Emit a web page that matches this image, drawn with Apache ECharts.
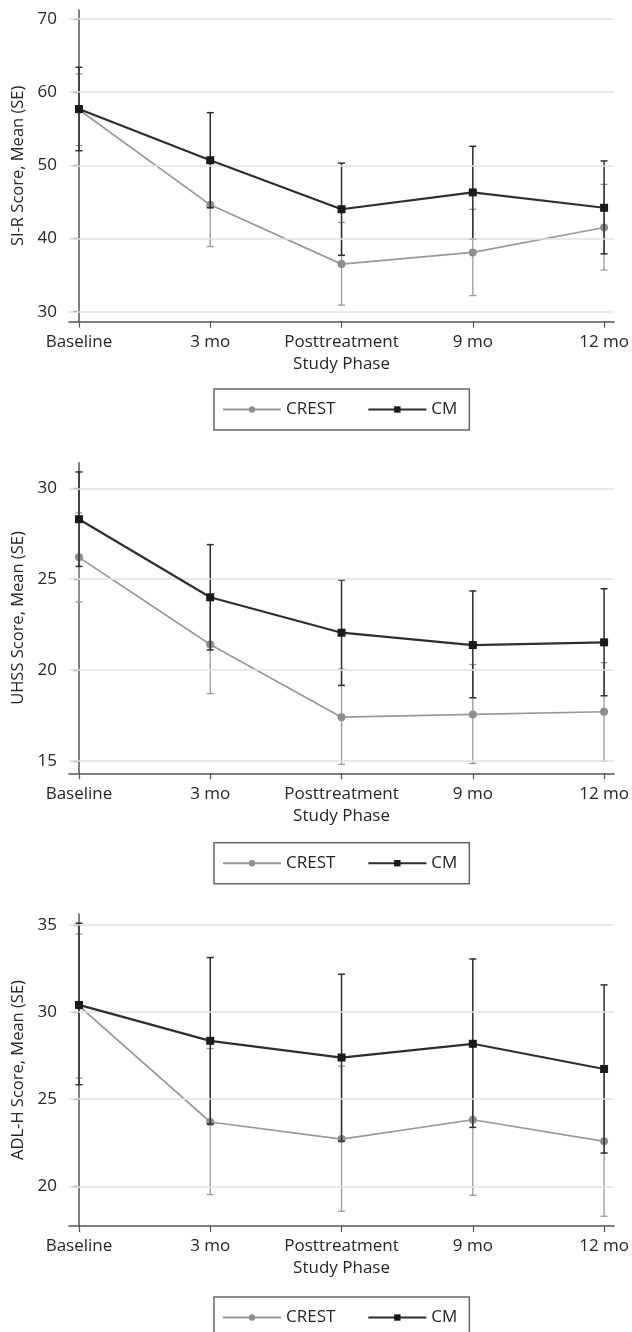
<!DOCTYPE html>
<html>
<head>
<meta charset="utf-8">
<script src="https://cdn.jsdelivr.net/npm/echarts@6/dist/echarts.min.js"></script>
<style>
  body { margin: 0; background: #fff; }
  .panel { position: absolute; left: 0; width: 632px; }
  #siR { top: 0; height: 440px; }
  #uhss { top: 440px; height: 445px; }
  #adlH { top: 880px; height: 452px; }
</style>
</head>
<body>
<div id="siR" class="panel"></div>
<div id="uhss" class="panel"></div>
<div id="adlH" class="panel"></div>
<script>
// study phases on the x axis
const phases = ["Baseline", "3 mo", "Posttreatment", "9 mo", "12 mo"];

// SI-R
const siTicks = [30, 40, 50, 60, 70];
const siCrest = [57.6, 44.6, 36.5, 38.1, 41.5];
const siCrestLo = [52.7, 38.9, 30.9, 32.2, 35.7];
const siCrestHi = [62.5, 50.3, 42.2, 44.0, 47.4];
const siCm = [57.7, 50.7, 44.0, 46.3, 44.2];
const siCmLo = [52.0, 44.2, 37.7, 39.9, 37.9];
const siCmHi = [63.4, 57.2, 50.3, 52.6, 50.6];

// UHSS
const uhTicks = [15, 20, 25, 30];
const uhCrest = [26.2, 21.4, 17.4, 17.55, 17.7];
const uhCrestLo = [23.75, 18.7, 14.8, 14.85, 14.98];
const uhCrestHi = [28.65, 24.1, 20.05, 20.3, 20.4];
const uhCm = [28.3, 24.0, 22.05, 21.37, 21.52];
const uhCmLo = [25.7, 21.1, 19.15, 18.47, 18.58];
const uhCmHi = [30.9, 26.9, 24.95, 24.35, 24.47];

// ADL-H
const adTicks = [20, 25, 30, 35];
const adCrest = [30.36, 23.69, 22.71, 23.82, 22.58];
const adCrestLo = [26.21, 19.52, 18.57, 19.48, 18.28];
const adCrestHi = [34.48, 27.9, 26.9, 28.16, 26.88];
const adCm = [30.41, 28.35, 27.39, 28.18, 26.73];
const adCmLo = [25.83, 23.57, 22.6, 23.38, 21.91];
const adCmHi = [35.1, 33.13, 32.17, 33.05, 31.56];

const FONT = "Open Sans";
const TEXT = "#262626";
const AXIS = "#555";
const GRAY = "#999";
const DARK = "#2e2e2e";
const xIdx = [0, 1, 2, 3, 4];

function errorBars(color, width) {
  return function (params, api) {
    const lo = api.coord([api.value(0), api.value(1)]);
    const hi = api.coord([api.value(0), api.value(2)]);
    const h = 3.5;
    const st = { stroke: color, lineWidth: width };
    return {
      type: "group",
      children: [
        { type: "line", shape: { x1: lo[0], y1: lo[1], x2: hi[0], y2: hi[1] }, style: st },
        { type: "line", shape: { x1: lo[0] - h, y1: lo[1], x2: lo[0] + h, y2: lo[1] }, style: st },
        { type: "line", shape: { x1: hi[0] - h, y1: hi[1], x2: hi[0] + h, y2: hi[1] }, style: st }
      ]
    };
  };
}

function panelOption(p) {
  return {
    animation: false,
    textStyle: { fontFamily: FONT },
    grid: { left: 69, top: p.top, width: 546, height: p.height, containLabel: false },
    legend: {
      data: ["CREST", "CM"],
      left: 214,
      top: p.legendTop,
      padding: [12, 12, 12, 8],
      borderColor: "#666",
      borderWidth: 1.5,
      borderRadius: 0,
      itemWidth: 58,
      itemHeight: 8,
      itemGap: 32,
      textStyle: { fontFamily: FONT, fontSize: 17, color: TEXT }
    },
    xAxis: {
      type: "value",
      min: -0.076,
      max: 4.076,
      name: "Study Phase",
      nameLocation: "middle",
      nameGap: 34,
      nameTextStyle: { fontFamily: FONT, fontSize: 17, color: TEXT },
      axisLine: { show: true, lineStyle: { color: AXIS, width: 1.5 } },
      axisTick: { show: true, customValues: xIdx, length: 6, lineStyle: { color: AXIS, width: 1.2 } },
      axisLabel: {
        customValues: xIdx,
        margin: 12,
        fontFamily: FONT, fontSize: 17, color: TEXT,
        formatter: v => phases[Math.round(v)]
      },
      splitLine: { show: false }
    },
    yAxis: {
      type: "value",
      min: p.min,
      max: p.max,
      name: p.name,
      nameLocation: "middle",
      nameGap: 36,
      nameTextStyle: { fontFamily: FONT, fontSize: 16.5, color: TEXT },
      axisLine: { show: true, lineStyle: { color: AXIS, width: 1.5 } },
      axisTick: { show: true, customValues: p.ticks, length: 6, lineStyle: { color: AXIS, width: 1.2 } },
      axisLabel: { customValues: p.ticks, margin: 12, fontFamily: FONT, fontSize: 17, color: TEXT },
      splitLine: { show: false }
    },
    series: [
      {
        name: "grid",
        type: "line",
        data: [],
        z: 0,
        silent: true,
        markLine: {
          silent: true,
          symbol: "none",
          label: { show: false },
          lineStyle: { color: "#e2e2e2", width: 1.5, type: "solid" },
          data: p.ticks.map(v => ({ yAxis: v }))
        }
      },
      {
        type: "custom",
        z: 2,
        renderItem: errorBars(GRAY, 1.3),
        encode: { x: 0, y: [1, 2] },
        data: p.crestLo.map((v, i) => [i, v, p.crestHi[i]])
      },
      {
        name: "CREST",
        type: "line",
        z: 3,
        symbol: "circle",
        symbolSize: 8,
        color: "#8e8e8e",
        lineStyle: { color: GRAY, width: 1.7 },
        data: p.crest.map((v, i) => [i, v])
      },
      {
        type: "custom",
        z: 4,
        renderItem: errorBars(DARK, 1.5),
        encode: { x: 0, y: [1, 2] },
        data: p.cmLo.map((v, i) => [i, v, p.cmHi[i]])
      },
      {
        name: "CM",
        type: "line",
        z: 5,
        symbol: "rect",
        symbolSize: 8,
        color: "#1a1a1a",
        lineStyle: { color: DARK, width: 2.2 },
        data: p.cm.map((v, i) => [i, v])
      }
    ]
  };
}

const siR = echarts.init(document.getElementById("siR"));
const uhss = echarts.init(document.getElementById("uhss"));
const adlH = echarts.init(document.getElementById("adlH"));

siR.setOption(panelOption({
  name: "SI-R Score, Mean (SE)", top: 10, height: 311.7, min: 28.63, max: 71.23, ticks: siTicks, legendTop: 389,
  crest: siCrest, crestLo: siCrestLo, crestHi: siCrestHi, cm: siCm, cmLo: siCmLo, cmHi: siCmHi
}));
uhss.setOption(panelOption({
  name: "UHSS Score, Mean (SE)", top: 22.7, height: 310.6, min: 14.31, max: 31.41, ticks: uhTicks, legendTop: 402.7,
  crest: uhCrest, crestLo: uhCrestLo, crestHi: uhCrestHi, cm: uhCm, cmLo: uhCmLo, cmHi: uhCmHi
}));
adlH.setOption(panelOption({
  name: "ADL-H Score, Mean (SE)", top: 34, height: 312, min: 17.72, max: 35.63, ticks: adTicks, legendTop: 417,
  crest: adCrest, crestLo: adCrestLo, crestHi: adCrestHi, cm: adCm, cmLo: adCmLo, cmHi: adCmHi
}));

window.addEventListener("resize", function () {
  siR.resize();
  uhss.resize();
  adlH.resize();
});
</script>
</body>
</html>
